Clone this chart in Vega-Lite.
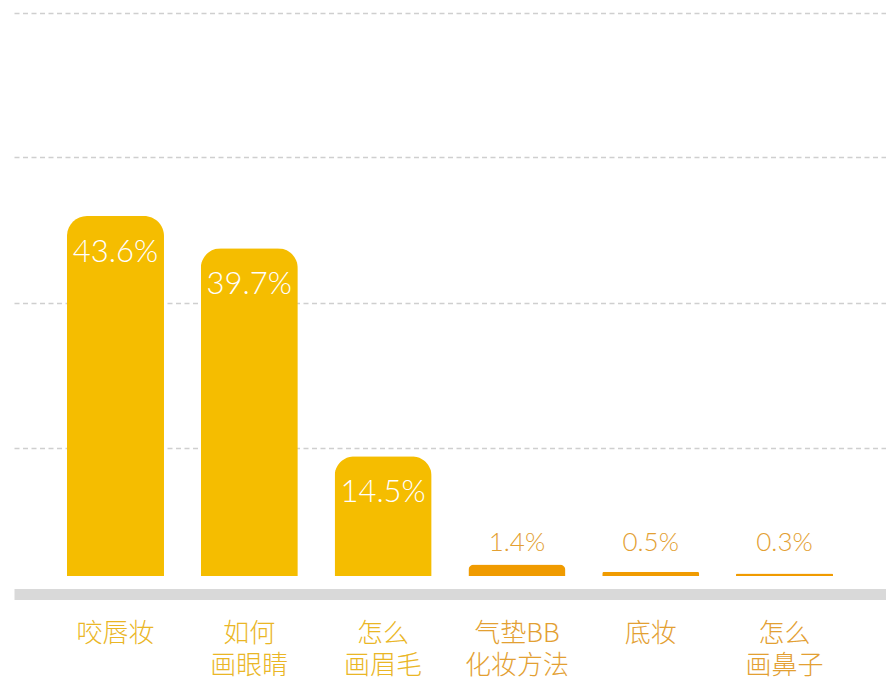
{
  "$schema": "https://vega.github.io/schema/vega-lite/v6.json",
  "autosize": {"type": "none"},
  "padding": {"left": 14, "top": 13, "right": 0, "bottom": 105},
  "width": 872,
  "height": 563,
  "background": "white",
  "config": {"view": {"stroke": null}},
  "data": {"values": [
    {"cat": "咬唇妆", "value": 43.6, "label": "43.6%"},
    {"cat": "如何|画眼睛", "value": 39.7, "label": "39.7%"},
    {"cat": "怎么|画眉毛", "value": 14.5, "label": "14.5%"},
    {"cat": "气垫BB|化妆方法", "value": 1.4, "label": "1.4%"},
    {"cat": "底妆", "value": 0.5, "label": "0.5%"},
    {"cat": "怎么|画鼻子", "value": 0.3, "label": "0.3%"}
  ]},
  "encoding": {
    "x": {
      "field": "cat", "type": "nominal", "sort": null,
      "scale": {"paddingInner": 0.275, "paddingOuter": 0.396},
      "axis": {
        "title": null, "orient": "bottom", "offset": 18,
        "domainColor": "#d9d9d9", "domainWidth": 11,
        "ticks": false, "tickSize": 0, "labelAngle": 0,
        "labelExpr": "split(datum.label, '|')",
        "labelFont": "Noto Sans CJK SC", "labelFontWeight": 300,
        "labelFontSize": 26, "labelLineHeight": 32, "labelPadding": 26,
        "labelColor": {"condition": {"test": "indexof(['咬唇妆','如何|画眼睛','怎么|画眉毛'], datum.value) >= 0", "value": "#EAB626"}, "value": "#E3A032"}
      }
    },
    "y": {
      "field": "value", "type": "quantitative",
      "scale": {"domain": [0, 68.2], "nice": false},
      "axis": {
        "title": null, "labels": false, "ticks": false, "domain": false,
        "values": [15.5, 33.1, 50.7, 68.2],
        "grid": true, "gridColor": "#cfcfcf", "gridDash": [5, 3.5], "gridWidth": 1.5
      }
    }
  },
  "layer": [
    {
      "mark": {"type": "bar", "cornerRadiusTopLeft": 20, "cornerRadiusTopRight": 20},
      "encoding": {
        "color": {"condition": {"test": "datum.value > 5", "value": "#F5BD00"}, "value": "#F09B00"}
      }
    },
    {
      "transform": [{"filter": "datum.value > 5"}],
      "mark": {"type": "text", "baseline": "alphabetic", "dy": 46, "font": "Lato", "fontWeight": 300, "fontSize": 31, "color": "white"},
      "encoding": {"text": {"field": "label"}}
    },
    {
      "transform": [{"filter": "datum.value <= 5"}],
      "mark": {"type": "text", "baseline": "alphabetic", "font": "Lato", "fontWeight": 300, "fontSize": 26, "color": "#E3A032"},
      "encoding": {"y": {"datum": 3}, "text": {"field": "label"}}
    }
  ]
}
